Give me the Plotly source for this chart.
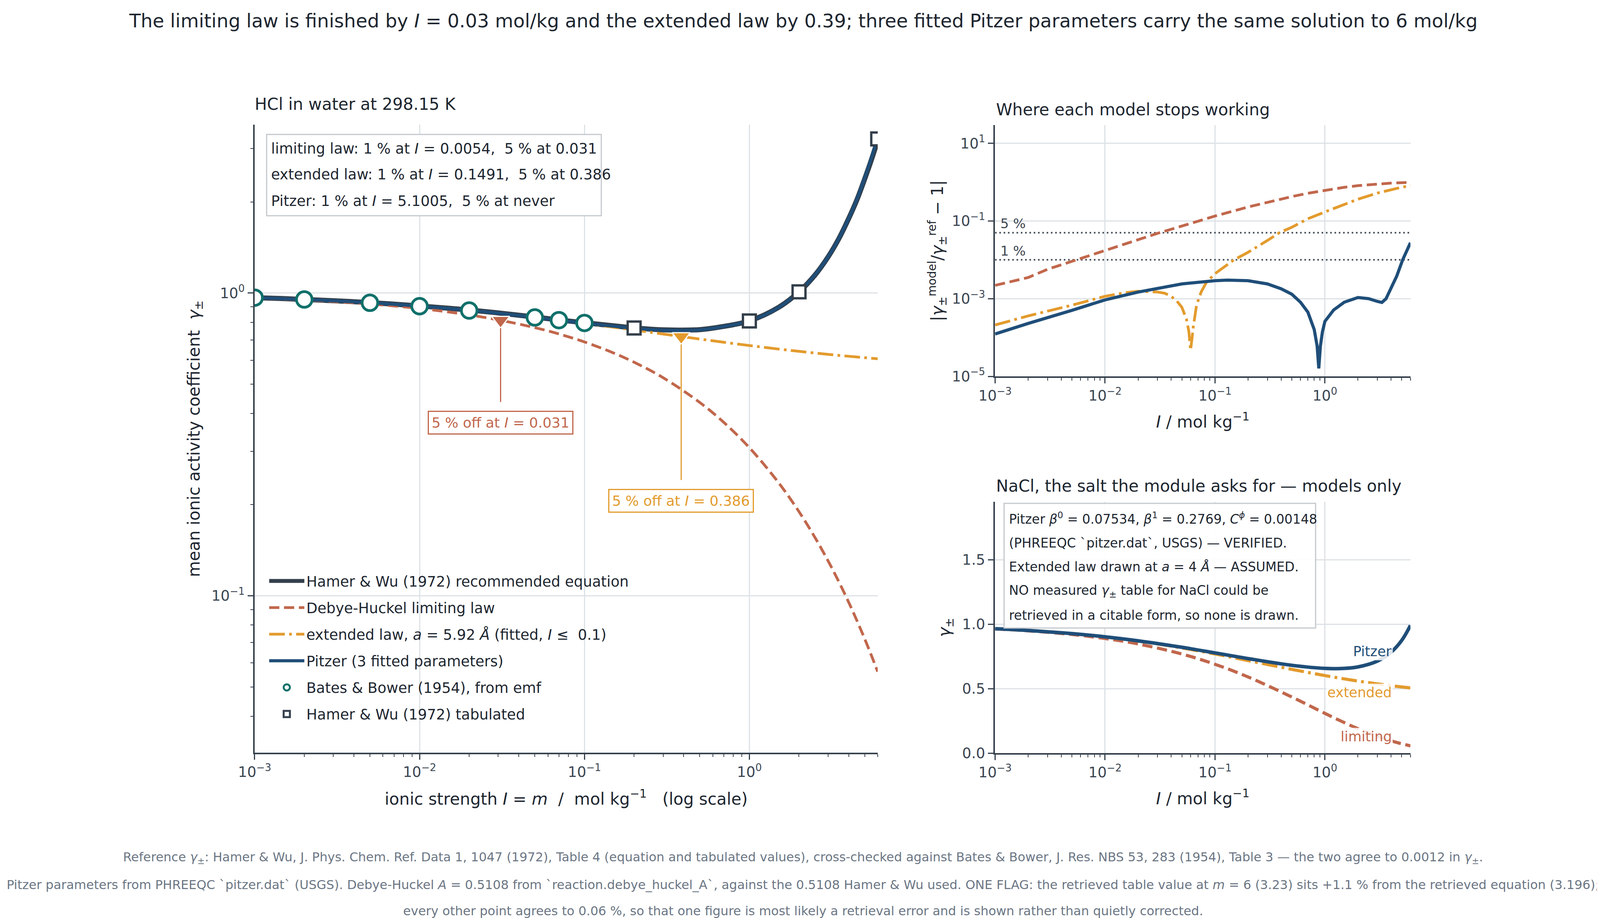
import math
import plotly.graph_objects as go

# ---------------- data ----------------
# HCl, main panel (I in mol/kg)
I_curve = [0.001, 0.0015, 0.002, 0.003, 0.005, 0.007, 0.01, 0.015, 0.02, 0.03, 0.05, 0.07,
           0.1, 0.15, 0.2, 0.3, 0.5, 0.7, 1.0, 1.5, 2.0, 2.5, 3.0, 3.5, 4.0, 4.5, 5.0, 5.5, 6.0]
gamma_eq = [0.9656, 0.9585, 0.9524, 0.9436, 0.9297, 0.9190, 0.9065, 0.8906, 0.8790, 0.8598, 0.8330, 0.8150,
            0.7978, 0.7795, 0.7670, 0.7560, 0.7571, 0.7760, 0.8090, 0.8960, 1.0090, 1.1470, 1.3160, 1.5180,
            1.7620, 2.0400, 2.3800, 2.7600, 3.1960]
gamma_pitzer = [0.9655, 0.9584, 0.9522, 0.9433, 0.9292, 0.9184, 0.9057, 0.8894, 0.8777, 0.8585, 0.8310, 0.8130,
                0.7955, 0.7772, 0.7648, 0.7542, 0.7561, 0.7756, 0.8088, 0.8953, 1.0101, 1.1482, 1.3171, 1.5195,
                1.7654, 2.0480, 2.4000, 2.8050, 3.2840]
gamma_limiting = [0.9635, 0.9555, 0.9487, 0.9376, 0.9202, 0.9064, 0.8891, 0.8659, 0.8468, 0.8156, 0.7688, 0.7326,
                  0.6894, 0.6340, 0.5909, 0.5252, 0.4351, 0.3738, 0.3084, 0.2367, 0.1895, 0.1557, 0.1304, 0.1108,
                  0.0952, 0.0825, 0.0721, 0.0634, 0.0561]
gamma_extended = [0.9656, 0.9585, 0.9528, 0.9434, 0.9295, 0.9189, 0.9062, 0.8902, 0.8779, 0.8586, 0.8324, 0.8141,
                  0.7943, 0.7713, 0.7550, 0.7322, 0.7047, 0.6877, 0.6709, 0.6532, 0.6418, 0.6335, 0.6273, 0.6222,
                  0.6182, 0.6146, 0.6116, 0.6089, 0.6067]
I_bates = [0.001, 0.002, 0.005, 0.01, 0.02, 0.05, 0.07, 0.1]
gamma_bates = [0.9656, 0.9521, 0.9285, 0.9048, 0.8755, 0.8304, 0.8137, 0.7964]
I_hamer_tab = [0.2, 1.0, 2.0, 6.0]
gamma_hamer_tab = [0.7667, 0.8090, 1.0090, 3.23]
I_flag = [0.031, 0.386]
gamma_flag = [0.8127, 0.7180]
flag_labels = ["5 % off at <i>I</i> = 0.031", "5 % off at <i>I</i> = 0.386"]

# error panel
I_err_lim = [0.001, 0.002, 0.003, 0.005, 0.01, 0.02, 0.03, 0.05, 0.1, 0.2, 0.3, 0.5, 0.7, 1.0, 1.5, 2.0, 3.0, 4.0, 5.0, 6.0]
err_lim = [0.0022, 0.0035, 0.0057, 0.0092, 0.0176, 0.0334, 0.048, 0.074, 0.134, 0.229, 0.305, 0.425, 0.518, 0.619,
           0.736, 0.812, 0.901, 0.946, 0.970, 0.982]
I_err_ext = [0.001, 0.002, 0.005, 0.01, 0.015, 0.02, 0.03, 0.035, 0.04, 0.045, 0.05, 0.055, 0.058, 0.06, 0.062,
             0.0634, 0.068, 0.075, 0.0834, 0.1, 0.1491, 0.2, 0.3, 0.386, 0.5, 0.7, 1.0, 1.5, 2.0, 3.0, 4.0, 5.0, 6.0]
err_ext = [2.1e-4, 3.6e-4, 6.8e-4, 1.15e-3, 1.42e-3, 1.55e-3, 1.48e-3, 1.38e-3, 1.15e-3, 8.7e-4, 6.0e-4, 3.0e-4,
           1.4e-4, 4.7e-5, 1.0e-4, 1.8e-4, 6.8e-4, 1.5e-3, 2.6e-3, 4.4e-3, 1.0e-2, 1.56e-2, 3.15e-2, 5.0e-2,
           6.9e-2, 0.114, 0.171, 0.271, 0.364, 0.523, 0.649, 0.743, 0.810]
I_err_pitz = [0.001, 0.002, 0.005, 0.01, 0.02, 0.05, 0.1, 0.13, 0.2, 0.3, 0.4, 0.5, 0.6, 0.7, 0.8, 0.85, 0.88,
              0.91, 0.95, 1.0, 1.2, 1.5, 2.0, 2.5, 3.0, 3.3, 3.6, 4.0, 4.5, 5.1, 5.5, 6.0]
err_pitz = [1.23e-4, 2.3e-4, 5.0e-4, 9.3e-4, 1.48e-3, 2.4e-3, 2.9e-3, 3.0e-3, 2.9e-3, 2.4e-3, 1.8e-3, 1.3e-3,
            8.1e-4, 4.5e-4, 1.6e-4, 6e-5, 1.6e-5, 6e-5, 1.4e-4, 2.6e-4, 5.1e-4, 8.1e-4, 1.07e-3, 1.0e-3, 8.5e-4,
            8.0e-4, 1.0e-3, 1.9e-3, 3.8e-3, 1.0e-2, 1.6e-2, 2.75e-2]
I_threshold = [0.001, 6.0]
thresholds = [0.05, 0.01]
threshold_labels = ["5 %", "1 %"]

# NaCl panel
I_nacl = [0.001, 0.002, 0.005, 0.01, 0.02, 0.05, 0.1, 0.2, 0.5, 1.0, 1.5, 2.0, 3.0, 4.0, 5.0, 6.0]
nacl_limiting = [0.9635, 0.9487, 0.9202, 0.8891, 0.8468, 0.7688, 0.6894, 0.5909, 0.4351, 0.3084, 0.2367, 0.1895,
                 0.1304, 0.0952, 0.0721, 0.0561]
nacl_extended = [0.9649, 0.9516, 0.9267, 0.9013, 0.8693, 0.8162, 0.7691, 0.7179, 0.6499, 0.6015, 0.5759, 0.5590,
                 0.5372, 0.5231, 0.5131, 0.5054]
nacl_pitzer = [0.9651, 0.9518, 0.9273, 0.9024, 0.8713, 0.8209, 0.7776, 0.7333, 0.6812, 0.6572, 0.6571, 0.6687,
               0.7140, 0.7831, 0.8747, 0.9908]

# tick labels
x_tickvals = [0.001, 0.01, 0.1, 1.0]
x_ticktext = ["10<sup>−3</sup>", "10<sup>−2</sup>", "10<sup>−1</sup>", "10<sup>0</sup>"]
y_main_tickvals = [0.1, 1.0]
y_main_ticktext = ["10<sup>−1</sup>", "10<sup>0</sup>"]
y_err_tickvals = [1e-5, 1e-3, 1e-1, 10.0]
y_err_ticktext = ["10<sup>−5</sup>", "10<sup>−3</sup>", "10<sup>−1</sup>", "10<sup>1</sup>"]
y_nacl_tickvals = [0.0, 0.5, 1.0, 1.5]
y_nacl_ticktext = ["0.0", "0.5", "1.0", "1.5"]

# ---------------- style ----------------
REF_W = 5331.0          # reference geometry (pixels) -> fractions of the page
W, H = 4096, 2349       # browser viewport actually available
FONT = "DejaVu Sans"
DARK = "#333f4b"
RED = "#c1674c"
ORANGE = "#e39b2d"
BLUE = "#1f4e79"
TEAL = "#10706a"
GRID = "#dde2e6"
AXIS = "#36414d"
TEXT = "#1d2630"
TICK = "#3a4552"
FOOT = "#6b7684"
BOX = "#c4c9ce"
DASH = "26px,12px"
DASHDOT = "40px,11px,7px,11px"


def px_x(p):
    return p / REF_W


def px_y(p):
    return (H - p) / H


x_minor = [m * 10.0 ** e for e in range(-3, 0) for m in range(2, 10)] + [2.0, 3.0, 4.0, 5.0, 6.0]
y_minor = [m * 10.0 ** e for e in range(-2, 1) for m in range(2, 10) if 0.0303 < m * 10.0 ** e < 3.6]

fig = go.Figure()

# main panel traces
fig.add_trace(go.Scatter(x=I_curve, y=gamma_eq, mode="lines", line=dict(color=DARK, width=13, shape="spline"),
                         name="Hamer & Wu (1972) recommended equation", legendrank=1, legendgroup="a",
                         xaxis="x", yaxis="y"))
fig.add_trace(go.Scatter(x=I_curve, y=gamma_limiting, mode="lines",
                         line=dict(color=RED, width=7, dash=DASH, shape="spline"),
                         name="Debye-Huckel limiting law", legendrank=2, legendgroup="b", xaxis="x", yaxis="y"))
fig.add_trace(go.Scatter(x=I_curve, y=gamma_extended, mode="lines",
                         line=dict(color=ORANGE, width=7, dash=DASHDOT, shape="spline"),
                         name="extended law, <i>a</i> = 5.92 <i>Å</i> (fitted, <i>I</i> ≤  0.1)", legendrank=3,
                         legendgroup="c", xaxis="x", yaxis="y"))
fig.add_trace(go.Scatter(x=I_curve, y=gamma_pitzer, mode="lines", line=dict(color=BLUE, width=8, shape="spline"),
                         name="Pitzer (3 fitted parameters)", legendrank=4, legendgroup="d", xaxis="x", yaxis="y"))
fig.add_trace(go.Scatter(x=I_bates, y=gamma_bates, mode="markers",
                         marker=dict(symbol="circle", size=40, color="white", line=dict(color=TEAL, width=7)),
                         name="Bates & Bower (1954), from emf", legendrank=5, legendgroup="e", xaxis="x", yaxis="y"))
fig.add_trace(go.Scatter(x=I_hamer_tab, y=gamma_hamer_tab, mode="markers",
                         marker=dict(symbol="square", size=33, color="white", line=dict(color=DARK, width=6)),
                         name="Hamer & Wu (1972) tabulated", legendrank=6, legendgroup="f", xaxis="x", yaxis="y"))
fig.add_trace(go.Scatter(x=I_flag, y=gamma_flag, mode="markers", showlegend=False,
                         marker=dict(symbol="triangle-down", size=40, color=[RED, ORANGE],
                                     line=dict(color="white", width=3)), xaxis="x", yaxis="y"))

# error panel traces
for thr in thresholds:
    fig.add_trace(go.Scatter(x=I_threshold, y=[thr, thr], mode="lines", showlegend=False,
                             line=dict(color="#3d4650", width=4, dash="4px,7px"), xaxis="x2", yaxis="y2"))
fig.add_trace(go.Scatter(x=I_err_lim, y=err_lim, mode="lines", showlegend=False,
                         line=dict(color=RED, width=7, dash=DASH), xaxis="x2", yaxis="y2"))
fig.add_trace(go.Scatter(x=I_err_ext, y=err_ext, mode="lines", showlegend=False,
                         line=dict(color=ORANGE, width=7, dash=DASHDOT), xaxis="x2", yaxis="y2"))
fig.add_trace(go.Scatter(x=I_err_pitz, y=err_pitz, mode="lines", showlegend=False,
                         line=dict(color=BLUE, width=8), xaxis="x2", yaxis="y2"))

# NaCl panel traces
fig.add_trace(go.Scatter(x=I_nacl, y=nacl_limiting, mode="lines", showlegend=False,
                         line=dict(color=RED, width=8, dash=DASH, shape="spline"), xaxis="x3", yaxis="y3"))
fig.add_trace(go.Scatter(x=I_nacl, y=nacl_extended, mode="lines", showlegend=False,
                         line=dict(color=ORANGE, width=8, dash=DASHDOT, shape="spline"), xaxis="x3", yaxis="y3"))
fig.add_trace(go.Scatter(x=I_nacl, y=nacl_pitzer, mode="lines", showlegend=False,
                         line=dict(color=BLUE, width=9, shape="spline"), xaxis="x3", yaxis="y3"))

tickfont = dict(family=FONT, size=37, color=TICK)
titlefont = dict(family=FONT, size=42, color=TEXT)


def axis_common(**kw):
    d = dict(showline=True, linecolor=AXIS, linewidth=4, ticks="outside", ticklen=14, tickwidth=3,
             tickcolor=AXIS, tickfont=tickfont, showgrid=True, gridcolor=GRID, gridwidth=3,
             zeroline=False, automargin=False, mirror=False)
    d.update(kw)
    return d


def minor(vals):
    return dict(tickvals=vals, ticks="outside", ticklen=7, tickwidth=2, tickcolor=AXIS, showgrid=False)


xr = [-3, math.log10(6.0)]
fig.update_layout(
    width=W, height=H, margin=dict(l=0, r=0, t=0, b=0),
    paper_bgcolor="white", plot_bgcolor="white",
    font=dict(family=FONT, color=TEXT),
    xaxis=axis_common(type="log", range=xr, tickvals=x_tickvals, ticktext=x_ticktext, minor=minor(x_minor),
                      domain=[px_x(838), px_x(2914)], anchor="y",
                      title=dict(text="ionic strength <i>I</i> = <i>m</i>  /  mol kg<sup>−1</sup>   (log scale)",
                                 font=titlefont, standoff=34)),
    yaxis=axis_common(type="log", range=[math.log10(0.0303), math.log10(3.6)], tickvals=y_main_tickvals,
                      ticktext=y_main_ticktext, minor=minor(y_minor),
                      domain=[px_y(1918), px_y(311)], anchor="x",
                      title=dict(text="mean ionic activity coefficient  <i>γ</i><sub>±</sub>",
                                 font=titlefont, standoff=18)),
    xaxis2=axis_common(type="log", range=xr, tickvals=x_tickvals, ticktext=x_ticktext, minor=minor(x_minor),
                       domain=[px_x(3305), px_x(4689)], anchor="y2",
                       title=dict(text="<i>I</i> / mol kg<sup>−1</sup>", font=titlefont, standoff=32)),
    yaxis2=axis_common(type="log", range=[-5, 1.47], tickvals=y_err_tickvals, ticktext=y_err_ticktext,
                       domain=[px_y(955), px_y(312)], anchor="x2",
                       title=dict(text="|<i>γ</i><sub>±</sub><sup>model</sup>/<i>γ</i><sub>±</sub><sup>ref</sup> − 1|",
                                  font=titlefont, standoff=10)),
    xaxis3=axis_common(type="log", range=xr, tickvals=x_tickvals, ticktext=x_ticktext, minor=minor(x_minor),
                       domain=[px_x(3305), px_x(4689)], anchor="y3",
                       title=dict(text="<i>I</i> / mol kg<sup>−1</sup>", font=titlefont, standoff=32)),
    yaxis3=axis_common(range=[0, 1.95], tickvals=y_nacl_tickvals, ticktext=y_nacl_ticktext,
                       domain=[px_y(1919), px_y(1276)], anchor="x3",
                       title=dict(text="<i>γ</i><sub>±</sub>", font=titlefont, standoff=18)),
    legend=dict(x=px_x(880), y=px_y(1448), xanchor="left", yanchor="top", bgcolor="rgba(0,0,0,0)",
                font=dict(family=FONT, size=37, color=TEXT), itemwidth=90, tracegroupgap=17,
                traceorder="grouped"),
)

ann = []
shapes = []
# main title
ann.append(dict(xref="paper", yref="paper", x=0.5, y=px_y(45), xanchor="center", yanchor="middle",
                showarrow=False, font=dict(family=FONT, size=48, color=TEXT),
                text="The limiting law is finished by <i>I</i> = 0.03 mol/kg and the extended law by 0.39; "
                     "three fitted Pitzer parameters carry the same solution to 6 mol/kg"))
# panel titles
for txt, x, y in [("HCl in water at 298.15 K", 836, 258),
                  ("Where each model stops working", 3306, 272),
                  ("NaCl, the salt the module asks for — models only", 3306, 1236)]:
    ann.append(dict(xref="paper", yref="paper", x=px_x(x), y=px_y(y), xanchor="left", yanchor="middle",
                    showarrow=False, font=dict(family=FONT, size=42, color=TEXT), text=txt))

# HCl info box
shapes.append(dict(type="rect", xref="paper", yref="paper", x0=px_x(878), x1=px_x(1993),
                   y0=px_y(544), y1=px_y(336), line=dict(color=BOX, width=3), fillcolor="white", layer="above"))
hcl_lines = ["limiting law: 1 % at <i>I</i> = 0.0054, \u00a05 % at 0.031",
             "extended law: 1 % at <i>I</i> = 0.1491, \u00a05 % at 0.386",
             "Pitzer: 1 % at <i>I</i> = 5.1005, \u00a05 % at never"]
for txt, y in zip(hcl_lines, [372, 439, 506]):
    ann.append(dict(xref="paper", yref="paper", x=px_x(890), y=px_y(y), xanchor="left", yanchor="middle",
                    showarrow=False, text=txt, font=dict(family=FONT, size=37, color=TEXT)))

# flag annotations
for xi, gi, lab, col, ay in zip(I_flag, gamma_flag, flag_labels, [RED, ORANGE], [262, 420]):
    ann.append(dict(xref="x", yref="y", x=math.log10(xi), y=math.log10(gi), ax=0, ay=ay,
                    showarrow=True, arrowhead=0, arrowwidth=3, arrowcolor=col, standoff=20,
                    startstandoff=24, text=lab, font=dict(family=FONT, size=36, color=col),
                    bgcolor="white", bordercolor=col, borderwidth=3, borderpad=7))
# threshold labels
for thr, lab in zip(thresholds, threshold_labels):
    ann.append(dict(xref="x2", yref="y2", x=-2.96, y=math.log10(thr), xanchor="left", yanchor="bottom",
                    yshift=1, showarrow=False, text=lab, font=dict(family=FONT, size=34, color="#3d4650")))

# NaCl info box
shapes.append(dict(type="rect", xref="paper", yref="paper", x0=px_x(3335), x1=px_x(4373),
                   y0=px_y(1599), y1=px_y(1280), line=dict(color=BOX, width=3),
                   fillcolor="rgba(255,255,255,0.92)", layer="above"))
nacl_lines = ["Pitzer <i>β</i><sup>0</sup> = 0.07534, <i>β</i><sup>1</sup> = 0.2769, "
              "<i>C</i><sup><i>ϕ</i></sup> = 0.00148",
              "(PHREEQC `pitzer.dat`, USGS) — VERIFIED.",
              "Extended law drawn at <i>a</i> = 4 <i>Å</i> — ASSUMED.",
              "NO measured <i>γ</i><sub>±</sub> table for NaCl could be",
              "retrieved in a citable form, so none is drawn."]
for txt, y in zip(nacl_lines, [1318, 1381, 1442, 1504, 1566]):
    ann.append(dict(xref="paper", yref="paper", x=px_x(3349), y=px_y(y), xanchor="left", yanchor="middle",
                    showarrow=False, text=txt, font=dict(family=FONT, size=33, color=TEXT)))

# NaCl curve labels
for txt, yv, col in [("Pitzer", 0.79, BLUE), ("extended", 0.47, ORANGE), ("limiting", 0.127, RED)]:
    ann.append(dict(xref="x3", yref="y3", x=math.log10(4.15), y=yv, xanchor="right", yanchor="middle",
                    showarrow=False, text=txt, font=dict(family=FONT, size=35, color=col),
                    bgcolor="rgba(255,255,255,0.85)", borderpad=2))
# footer
foot = [
    "Reference <i>γ</i><sub>±</sub>: Hamer & Wu, J. Phys. Chem. Ref. Data 1, 1047 (1972), Table 4 (equation and "
    "tabulated values), cross-checked against Bates & Bower, J. Res. NBS 53, 283 (1954), Table 3 — the two agree "
    "to 0.0012 in <i>γ</i><sub>±</sub>.",
    "Pitzer parameters from PHREEQC `pitzer.dat` (USGS). Debye-Huckel <i>A</i> = 0.5108 from "
    "`reaction.debye_huckel_A`, against the 0.5108 Hamer & Wu used. ONE FLAG: the retrieved table value at "
    "<i>m</i> = 6 (3.23) sits +1.1 % from the retrieved equation (3.196);",
    "every other point agrees to 0.06 %, so that one figure is most likely a retrieval error and is shown rather "
    "than quietly corrected.",
]
for txt, y in zip(foot, [2187, 2256, 2323]):
    ann.append(dict(xref="paper", yref="paper", x=0.5, y=px_y(y), xanchor="center", yanchor="middle",
                    showarrow=False, text=txt, font=dict(family=FONT, size=32, color=FOOT)))

fig.update_layout(annotations=ann, shapes=shapes)
fig.write_html("out.html")
